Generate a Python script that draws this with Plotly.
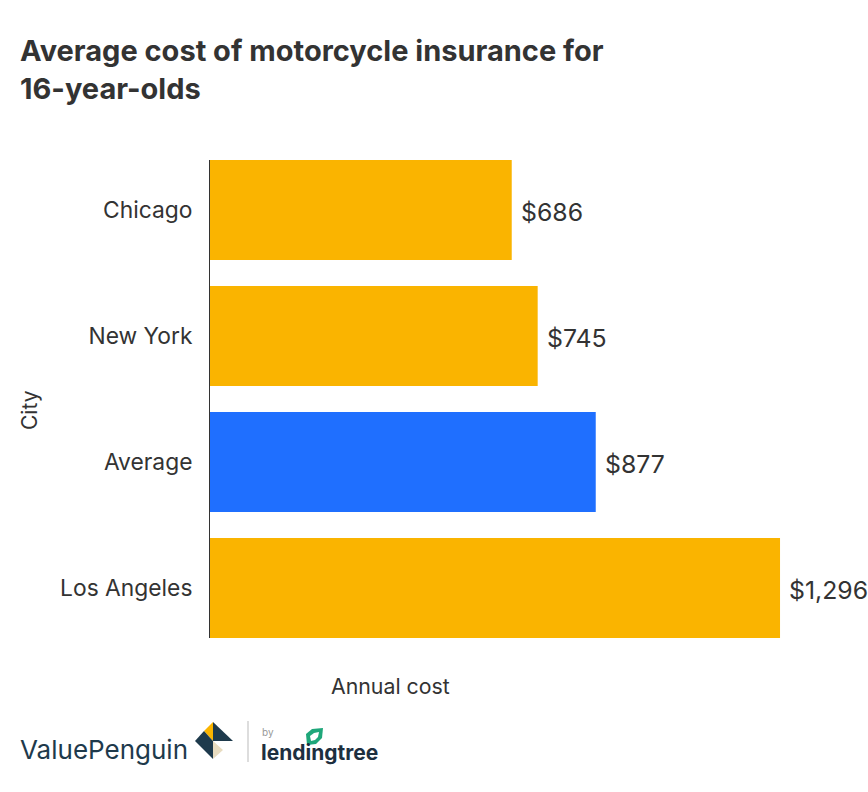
import plotly.graph_objects as go

cities = ["Chicago", "New York", "Average", "Los Angeles"]
costs = [686, 745, 877, 1296]
labels = ["$686", "$745", "$877", "$1,296"]
colors = ["#fab400", "#fab400", "#1f6fff", "#fab400"]
FONT = "Inter, Lato, 'Noto Sans', sans-serif"
TEXT = "#333333"
NAVY = "#1e3a4c"

W, H = 868, 792
L, R, T, B = 210, 868, 160, 638


def px(x):
    return (x - L) / (R - L)


def py(y):
    return 1 - (y - T) / (B - T)


def poly(pts, color):
    path = "M " + " L ".join(f"{px(x)} {py(y)}" for x, y in pts) + " Z"
    return dict(type="path", xref="paper", yref="paper", fillcolor=color, line=dict(width=0), path=path)


def note(text, x, y, size, color=TEXT, xanchor="center", angle=0):
    return dict(text=text, xref="paper", yref="paper", x=px(x), y=py(y), xanchor=xanchor, yanchor="middle",
                showarrow=False, textangle=angle, font=dict(size=size, color=color, family=FONT))


fig = go.Figure(go.Bar(
    y=cities, x=costs, orientation="h", marker=dict(color=colors, line=dict(width=0)),
    width=0.794, cliponaxis=False,
))

value_notes = [
    dict(text=t, x=c, y=n, xref="x", yref="y", xanchor="left", yanchor="middle", xshift=7, yshift=-2, showarrow=False,
         font=dict(size=24.8, color=TEXT, family=FONT))
    for t, c, n in zip(labels, costs, cities)
]

fig.update_layout(
    width=W, height=H, autosize=False, paper_bgcolor="white", plot_bgcolor="white",
    margin=dict(l=L, r=W - R, t=T, b=H - B, pad=0), showlegend=False,
    font=dict(family=FONT, color=TEXT),
    title=dict(text="<b>Average cost of motorcycle insurance for<br>16-year-olds</b>", x=20 / W, xanchor="left",
               y=1 - 61 / H, yanchor="top", font=dict(size=29, color=TEXT, family=FONT)),
    xaxis=dict(range=[0, 1496], showgrid=False, zeroline=False, showticklabels=False, ticks="", title=None),
    yaxis=dict(categoryorder="array", categoryarray=cities[::-1], range=[-0.397, 3.397], showgrid=False,
               zeroline=False, showline=True, linecolor=TEXT, linewidth=1, ticks="", ticklabelstandoff=12,
               tickfont=dict(size=22.8, color=TEXT, family=FONT), title=None),
    annotations=value_notes + [
        note("Annual cost", 390, 686, 21.3),
        note("City", 29, 410, 21, angle=-90),
        note("ValuePenguin", 18, 749, 26, NAVY, "left"),
        note("by", 260, 732, 10, "#999999", "left"),
        note("<b>lendingtree</b>", 259, 752, 21, "#1d2f3f", "left"),
    ],
    shapes=[
        dict(type="line", xref="paper", yref="paper", x0=px(248), x1=px(248), y0=py(721), y1=py(762),
             line=dict(color="#bbbbbb", width=1)),
        poly([(204, 731), (213, 722), (213, 741)], "#fab400"),
        poly([(213, 722), (233, 741), (213, 741)], NAVY),
        poly([(195, 741), (204, 731), (213, 741), (213, 759)], NAVY),
        poly([(213, 741), (223, 750), (213, 759)], "#e8dcc0"),
        poly([(307, 745), (306, 734), (312, 729), (323, 728), (322, 738), (316, 744)], "#1fa77a"),
        poly([(311, 741), (310, 736), (314, 733), (319, 732), (318, 737), (315, 740)], "#ffffff"),
    ],
)
fig.write_html("out.html", post_script="document.body.style.margin='0';", config={"displayModeBar": False})
